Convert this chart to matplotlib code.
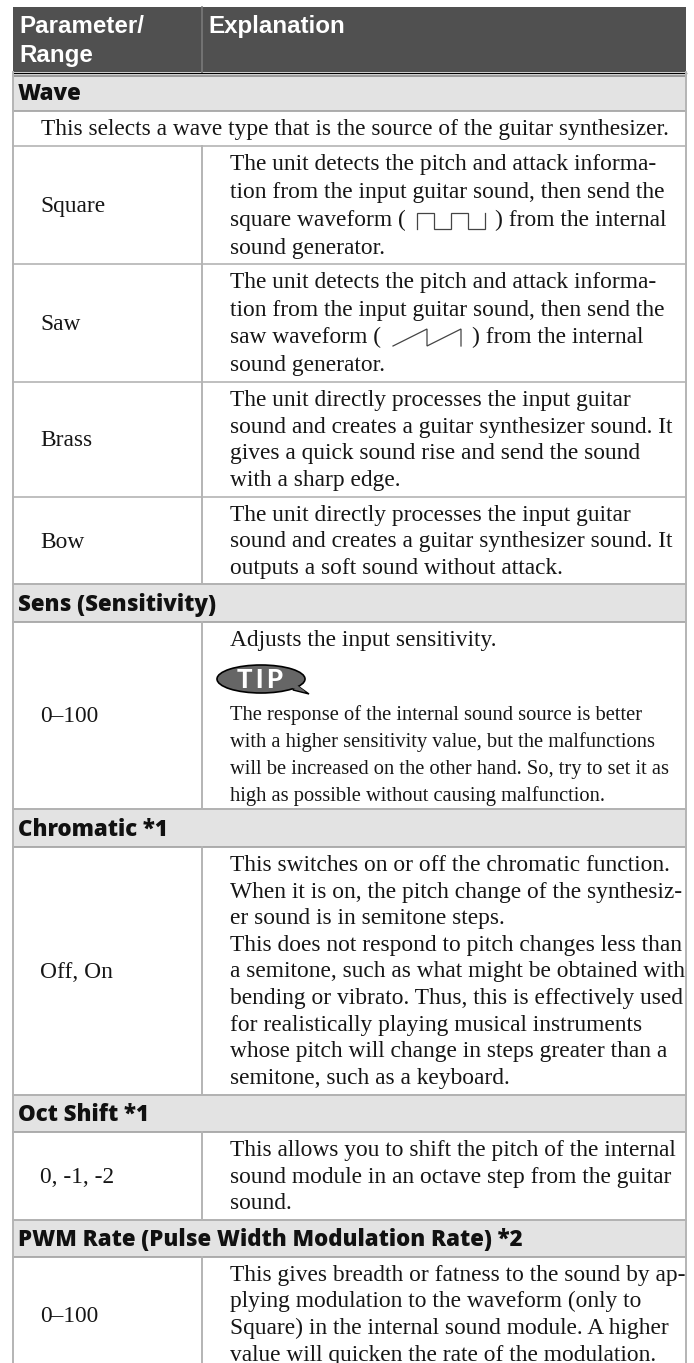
#!/usr/bin/python
# manual page table, drawn in pixel coordinates of the scanned page
import matplotlib
matplotlib.use("Agg")
import matplotlib.pyplot as plt
from matplotlib.patches import Ellipse, Polygon, Rectangle

header_left = ["Parameter/", "Range"]
header_right = "Explanation"

band_titles = ["Wave", "Sens (Sensitivity)", "Chromatic *1", "Oct Shift *1",
               "PWM Rate (Pulse Width Modulation Rate) *2"]
intro_text = "This selects a wave type that is the source of the guitar synthesizer."

row_labels = ["Square", "Saw", "Brass", "Bow", "0\u2013100", "Off, On", "0, -1, -2", "0\u2013100"]
row_lines = [
    ["The unit detects the pitch and attack informa-",
     "tion from the input guitar sound, then send the",
     "square waveform (",
     "sound generator."],
    ["The unit detects the pitch and attack informa-",
     "tion from the input guitar sound, then send the",
     "saw waveform (",
     "sound generator."],
    ["The unit directly processes the input guitar",
     "sound and creates a guitar synthesizer sound. It",
     "gives a quick sound rise and send the sound",
     "with a sharp edge."],
    ["The unit directly processes the input guitar",
     "sound and creates a guitar synthesizer sound. It",
     "outputs a soft sound without attack."],
    ["Adjusts the input sensitivity."],
    ["This switches on or off the chromatic function.",
     "When it is on, the pitch change of the synthesiz-",
     "er sound is in semitone steps.",
     "This does not respond to pitch changes less than",
     "a semitone, such as what might be obtained with",
     "bending or vibrato. Thus, this is effectively used",
     "for realistically playing musical instruments",
     "whose pitch will change in steps greater than a",
     "semitone, such as a keyboard."],
    ["This allows you to shift the pitch of the internal",
     "sound module in an octave step from the guitar",
     "sound."],
    ["This gives breadth or fatness to the sound by ap-",
     "plying modulation to the waveform (only to",
     "Square) in the internal sound module. A higher",
     "value will quicken the rate of the modulation."],
]
tip_lines = ["The response of the internal sound source is better",
             "with a higher sensitivity value, but the malfunctions",
             "will be increased on the other hand. So, try to set it as",
             "high as possible without causing malfunction."]
square_tail = ") from the internal"
saw_tail = ") from the internal"

# layout, page pixels
W, H = 694, 1363
LEFT, SPLIT, RIGHT = 13, 202, 686
band_tops = [76, 584, 809, 1095, 1220]
band_bottoms = [111, 622, 847, 1132, 1257]
row_tops = [146, 264, 382, 497, 622, 847, 1132, 1257]
row_bottoms = [264, 382, 497, 584, 809, 1095, 1220, 1373]
line_steps = [28, 27.7, 26.7, 26.5, 27, 26.6, 26.5, 26.5]

SERIF = "Liberation Serif"
BODY = 16.8
LINE = "#b4b4b4"
INK = "#161616"

fig = plt.figure(figsize=(W / 100, H / 100), dpi=100)
ax = fig.add_axes([0, 0, 1, 1])
ax.set_xlim(0, W)
ax.set_ylim(H, 0)
ax.axis("off")

# header
ax.add_patch(Rectangle((LEFT, 7), RIGHT - LEFT, 65, color="#505050", lw=0))
ax.plot([SPLIT, SPLIT], [7, 72], color="#7a7a7a", lw=1.2)
ax.plot([LEFT, RIGHT], [72.5, 72.5], color="#000000", lw=1.0)
ax.plot([LEFT, RIGHT], [75.5, 75.5], color="#808080", lw=1.4)
for txt, y in zip(header_left, [33, 62]):
    ax.text(19, y, txt, family="Liberation Sans", weight="bold", size=17.4, color="white")
ax.text(208, 33, header_right, family="Liberation Sans", weight="bold", size=17.4, color="white")

# section bands
for title, top, bottom in zip(band_titles, band_tops, band_bottoms):
    ax.add_patch(Rectangle((LEFT, top), RIGHT - LEFT, bottom - top, color="#e3e3e3", lw=0))
    ax.plot([LEFT, RIGHT], [top, top], color="#a0a0a0", lw=1.2)
    ax.plot([LEFT, RIGHT], [bottom, bottom], color="#a0a0a0", lw=1.2)
    ax.text(18, bottom - 11, title, family="Open Sans", weight=800, size=16, color="#111111")

# intro row spans both columns
ax.text(41, 135, intro_text, family=SERIF, size=BODY, color=INK)
ax.plot([LEFT, RIGHT], [146, 146], color=LINE, lw=1.2)

# rows
for i, label in enumerate(row_labels):
    top, bottom = row_tops[i], row_bottoms[i]
    ax.plot([SPLIT, SPLIT], [top, bottom], color=LINE, lw=1.4)
    ax.plot([LEFT, RIGHT], [bottom, bottom], color=LINE, lw=1.2)
    ax.text(40, (top + bottom) / 2 + 7, label, family=SERIF, size=BODY, color=INK)
    for j, txt in enumerate(row_lines[i]):
        ax.text(230, top + 24 + j * line_steps[i], txt, family=SERIF, size=BODY, color=INK)

# outer borders
ax.plot([LEFT, LEFT], [72, H], color=LINE, lw=1.4)
ax.plot([RIGHT, RIGHT], [72, H], color=LINE, lw=1.4)

# square wave glyph
sq_x = [417, 417, 434, 434, 451, 451, 468, 468, 485, 485]
sq_y = [229, 213, 213, 229, 229, 213, 213, 229, 229, 213]
ax.plot(sq_x, sq_y, color="#444444", lw=0.9, solid_joinstyle="miter")
ax.text(495, row_tops[0] + 24 + 2 * line_steps[0], square_tail, family=SERIF, size=BODY, color=INK)

# saw wave glyph
saw_x = [393, 427, 427, 461, 461]
saw_y = [346, 329, 346, 329, 346]
ax.plot(saw_x, saw_y, color="#444444", lw=0.9, solid_joinstyle="miter")
ax.text(472, row_tops[1] + 24 + 2 * line_steps[1], saw_tail, family=SERIF, size=BODY, color=INK)

# TIP badge
ax.add_patch(Polygon([[295, 684], [309, 694], [293, 690]], closed=True, fc="#666666", ec="black", lw=1.0))
ax.add_patch(Ellipse((261, 679), 88, 28, fc="#666666", ec="black", lw=1.2))
ax.add_patch(Polygon([[294, 683], [306, 692], [292, 688]], closed=True, fc="#666666", ec="none"))
ax.text(260, 688, "T\u2009I\u2009P", family="Lato", weight="black", size=18.5, color="white", ha="center", va="baseline")

# TIP body, smaller type
for j, txt in enumerate(tip_lines):
    ax.text(230, 720 + j * 27, txt, family=SERIF, size=14.8, color=INK)

fig.savefig("out.png", dpi=100, facecolor="white")
